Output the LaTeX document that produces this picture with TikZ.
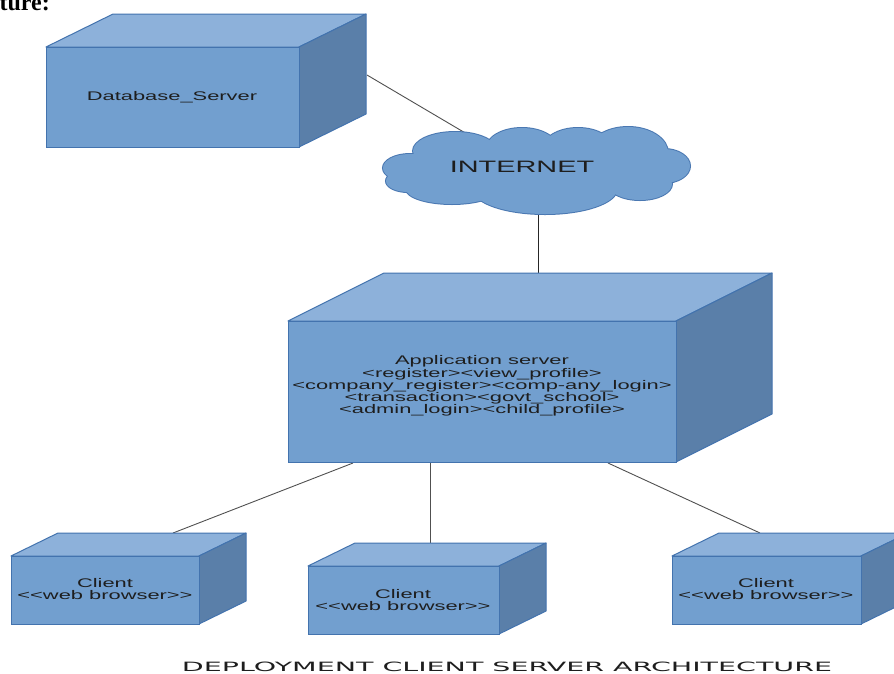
\documentclass[tikz,border=0pt]{standalone}
\usepackage{fontspec}
\setmainfont{Liberation Sans}
\newfontfamily\labfont[FakeStretch=1.75]{Liberation Sans}
\newfontfamily\ttlfont{DejaVu Sans}
\newfontfamily\hdrfont{Liberation Serif}
\definecolor{frontc}{HTML}{729FCF}
\definecolor{topc}{HTML}{8DB1DA}
\definecolor{sidec}{HTML}{5A7FA9}
\definecolor{edgec}{HTML}{4373AE}
\definecolor{cloudedge}{HTML}{4A78B2}
\definecolor{linec}{HTML}{505050}
\definecolor{txtc}{HTML}{1E1E1E}
\tikzset{
  frontface/.style={rectangle, fill=frontc, draw=edgec, line width=1pt, inner sep=0pt},
  topface/.style={fill=topc, draw=edgec, line width=1pt, line join=round},
  sideface/.style={fill=sidec, draw=edgec, line width=1pt, line join=round},
  lab/.style={text=txtc, font=\labfont\fontsize{12.5}{11.8}\selectfont, align=center, inner sep=0pt},
  conn/.style={draw=linec, line width=0.9pt},
  puff/.style={fill=frontc},
}
\newcommand\deplbox[7]{%
  \filldraw[topface] (#2,#3) -- (#2+#6,#3-#7) -- (#2+#4+#6,#3-#7) -- (#2+#4,#3) -- cycle;
  \filldraw[sideface] (#2+#4,#3) -- (#2+#4+#6,#3-#7) -- (#2+#4+#6,#3+#5-#7) -- (#2+#4,#3+#5) -- cycle;
  \node[frontface, minimum width=#4pt, minimum height=#5pt, anchor=north west] (#1) at (#2,#3) {};
}
\newcommand\cloudpuffs[1]{%
  \path[#1] (410,168) ellipse [x radius=27, y radius=14];
  \path[#1] (455,151) ellipse [x radius=42, y radius=19];
  \path[#1] (522,149) ellipse [x radius=36, y radius=21];
  \path[#1] (578,150) ellipse [x radius=36, y radius=22];
  \path[#1] (628,153) ellipse [x radius=40, y radius=26];
  \path[#1] (664,166) ellipse [x radius=26, y radius=17];
  \path[#1] (640,184) ellipse [x radius=32, y radius=16];
  \path[#1] (545,189) ellipse [x radius=72, y radius=25];
  \path[#1] (452,189) ellipse [x radius=46, y radius=15];
  \path[#1] (408,181) ellipse [x radius=22, y radius=11];
  \path[#1] (535,170) ellipse [x radius=120, y radius=30];
}
\begin{document}
\begin{tikzpicture}[x=1pt,y=-1pt]
\useasboundingbox (0,0) rectangle (894,673);
\fill[white] (0,0) rectangle (894,673);

% partial heading
\node[anchor=base east, inner sep=0pt, font=\hdrfont\bfseries\fontsize{24}{24}\selectfont] (hdr) at (50,10) {ture:};

% connectors (drawn first, behind shapes)
\coordinate (dbc) at (367,75);
\coordinate (clA) at (467,134);
\coordinate (clB) at (538,212);
\coordinate (appT) at (538,273);
\coordinate (appB1) at (353,463);
\coordinate (appB2) at (430,463);
\coordinate (appB3) at (608,463);
\coordinate (c1T) at (173,533);
\coordinate (c2T) at (430,543);
\coordinate (c3T) at (760,533);
\draw[conn] (dbc) -- (clA);
\draw[conn, draw=black!85] (clB) -- (appT);
\draw[conn] (appB1) -- (c1T);
\draw[conn] (appB2) -- (c2T);
\draw[conn] (appB3) -- (c3T);

% database server
\deplbox{db}{46}{47}{253}{100}{67}{33}
\node[lab] (dbtxt) at (172,97) {Database\_Server};

% cloud
\cloudpuffs{draw=cloudedge, line width=2pt}
\cloudpuffs{fill=frontc}
\node[text=txtc, inner sep=0pt, font=\labfont\fontsize{16.5}{16.5}\selectfont] (cloud) at (522,167) {INTERNET};

% application server
\deplbox{app}{288}{321}{388}{141}{96}{48}
\node[lab, font=\labfont\fontsize{12.5}{12.2}\selectfont] (apptxt) at (482,386) {Application server\\<register><view\_profile>\\<company\_register><comp-any\_login>\\<transaction><govt\_school>\\<admin\_login><child\_profile>};

% clients
\deplbox{cl1}{11}{556}{188}{68}{47}{23}
\node[lab] (cl1txt) at (105,589) {Client\\<<web browser>>};
\deplbox{cl2}{308}{566}{191}{68}{47}{23}
\node[lab] (cl2txt) at (403,600) {Client\\<<web browser>>};
\deplbox{cl3}{672}{556}{189}{68}{47}{23}
\node[lab] (cl3txt) at (766,589) {Client\\<<web browser>>};

% title
\node[text=txtc, inner sep=0pt] (title) at (507,667) {\resizebox{650pt}{9.5pt}{\ttlfont DEPLOYMENT CLIENT SERVER ARCHITECTURE}};
\end{tikzpicture}
\end{document}
